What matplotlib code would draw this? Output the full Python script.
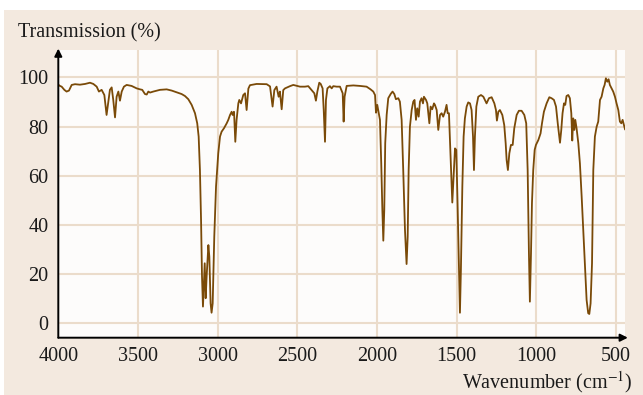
import matplotlib
matplotlib.use('Agg')
import matplotlib.pyplot as plt
from matplotlib.patches import Rectangle

# IR spectrum, values
wavenumber = [
    4000, 3990, 3979, 3962, 3948, 3933, 3916, 3895, 3864, 3832, 3801, 3780, 3759, 3745, 3728,
    3711, 3697, 3686, 3676, 3665, 3655, 3644, 3634, 3623, 3613, 3602, 3588, 3571, 3540, 3508,
    3487, 3473, 3456, 3445, 3435, 3424, 3404, 3362, 3320, 3288, 3257, 3226, 3205, 3184, 3163,
    3142, 3128, 3119, 3111, 3104, 3098, 3092, 3086, 3081, 3075, 3069, 3058, 3052, 3044, 3038,
    3031, 3021, 3010, 2996, 2985, 2975, 2960, 2943, 2933, 2922, 2912, 2906, 2897, 2889, 2881,
    2870, 2864, 2853, 2839, 2828, 2818, 2807, 2797, 2755, 2692, 2671, 2655, 2644, 2630, 2617,
    2609, 2598, 2588, 2577, 2546, 2525, 2483, 2452, 2431, 2410, 2393, 2383, 2374, 2362, 2353,
    2341, 2334, 2326, 2320, 2311, 2295, 2284, 2274, 2253, 2232, 2215, 2209, 2203, 2190, 2148,
    2107, 2065, 2040, 2023, 2012, 2006, 1998, 1990, 1981, 1973, 1966, 1960, 1954, 1948, 1939,
    1929, 1914, 1902, 1891, 1881, 1866, 1856, 1845, 1835, 1824, 1814, 1807, 1801, 1793, 1782,
    1772, 1764, 1755, 1747, 1738, 1730, 1720, 1711, 1705, 1692, 1684, 1671, 1663, 1653, 1642,
    1636, 1625, 1615, 1604, 1594, 1584, 1573, 1563, 1556, 1548, 1540, 1527, 1519, 1510, 1502,
    1494, 1485, 1479, 1473, 1464, 1456, 1448, 1437, 1427, 1416, 1406, 1397, 1391, 1385, 1376,
    1364, 1347, 1332, 1312, 1297, 1280, 1263, 1253, 1247, 1238, 1228, 1213, 1201, 1192, 1186,
    1178, 1169, 1159, 1148, 1138, 1123, 1109, 1092, 1075, 1063, 1054, 1046, 1040, 1033, 1027,
    1019, 1010, 1002, 987, 973, 964, 952, 935, 918, 904, 889, 876, 864, 851, 843,
    835, 826, 818, 810, 799, 789, 780, 774, 768, 761, 755, 747, 736, 726, 715,
    705, 694, 684, 674, 667, 659, 650, 642, 632, 621, 611, 600, 590, 579, 571,
    563, 554, 546, 538, 527, 517, 506, 496, 485, 475, 466, 458, 450, 443,
]
transmission = [
    97.0, 96.5, 96.2, 94.9, 94.2, 94.6, 96.9, 97.2, 97.0, 97.3, 97.8, 97.3, 96.2, 94.2, 94.9,
    92.8, 84.7, 90.1, 94.9, 95.9, 90.8, 83.7, 92.1, 94.2, 90.5, 94.2, 96.2, 96.9, 96.5, 95.5,
    95.1, 94.9, 93.2, 93.0, 94.2, 93.8, 94.2, 94.9, 95.1, 94.6, 93.9, 93.2, 92.4, 91.1, 88.8,
    85.4, 81.3, 75.9, 62.3, 42.0, 19.0, 6.8, 16.3, 24.4, 10.2, 19.0, 31.8, 27.1, 8.1, 4.3,
    8.1, 35.2, 55.6, 69.1, 75.9, 77.9, 79.3, 81.3, 82.7, 84.7, 86.0, 84.7, 86.0, 73.8, 82.7,
    89.4, 90.8, 89.4, 92.8, 93.5, 86.7, 95.4, 96.8, 97.3, 97.2, 96.3, 88.1, 94.8, 96.2, 92.1,
    94.2, 87.0, 94.8, 95.5, 96.4, 96.9, 96.2, 96.2, 96.4, 94.8, 93.5, 90.5, 94.2, 97.8, 97.3,
    95.5, 86.7, 73.8, 90.8, 95.5, 96.4, 95.5, 96.4, 96.2, 96.2, 93.5, 82.0, 92.1, 96.5, 96.7,
    96.5, 96.2, 95.1, 94.2, 92.8, 85.6, 88.8, 86.0, 82.7, 65.0, 46.1, 33.6, 46.1, 73.2, 84.7,
    91.5, 93.2, 94.2, 93.2, 91.1, 91.5, 90.1, 82.7, 62.3, 37.9, 24.1, 35.2, 62.3, 79.9, 86.7,
    90.1, 90.8, 82.7, 87.4, 84.0, 90.1, 91.5, 89.4, 92.1, 90.8, 89.4, 81.3, 88.1, 87.0, 89.4,
    88.8, 86.7, 78.6, 84.7, 85.4, 84.0, 86.0, 88.8, 85.4, 85.4, 71.8, 49.1, 59.6, 71.1, 70.5,
    48.8, 21.7, 4.3, 21.7, 55.6, 75.9, 83.3, 88.1, 89.8, 89.4, 86.7, 75.9, 62.3, 75.9, 88.1,
    92.1, 92.8, 92.1, 89.4, 91.5, 91.9, 89.4, 86.7, 82.4, 86.0, 86.7, 84.7, 80.6, 73.2, 66.4,
    62.3, 69.1, 72.5, 72.5, 79.3, 84.7, 86.4, 86.4, 84.7, 81.3, 62.3, 28.5, 8.8, 28.5, 48.8,
    62.3, 70.5, 72.5, 74.5, 77.2, 81.3, 86.0, 89.4, 91.9, 91.5, 90.8, 88.1, 80.6, 73.4, 78.6,
    85.4, 89.4, 88.8, 92.4, 92.8, 91.5, 85.4, 74.3, 83.3, 78.6, 82.7, 79.3, 73.2, 65.0, 51.5,
    37.9, 23.0, 9.5, 4.1, 3.8, 8.1, 24.4, 62.3, 75.9, 79.9, 82.0, 90.8, 92.1, 95.5, 96.9,
    99.6, 98.2, 99.2, 96.9, 95.5, 94.2, 92.1, 89.4, 86.7, 82.0, 81.3, 82.7, 80.6, 78.9,
]

x_ticks = [4000, 3500, 3000, 2500, 2000, 1500, 1000, 500]
y_ticks = [0, 20, 40, 60, 80, 100]

plt.rcParams['font.family'] = ['Liberation Serif', 'DejaVu Serif']
plt.rcParams['mathtext.fontset'] = 'stix'

W, H = 643, 395
fig = plt.figure(figsize=(W / 100, H / 100), dpi=100, facecolor='white')
fig.patches.append(Rectangle((4 / W, 0), 1, 1 - 10 / H, transform=fig.transFigure,
                             facecolor='#f3e9df', edgecolor='none', zorder=-10))

left, right, bottom, top = 58.3, 625, 337.7, 50
ax = fig.add_axes([left / W, 1 - bottom / H, (right - left) / W, (bottom - top) / H])
ax.set_facecolor('#fdfcfb')

ax.plot(wavenumber, transmission, color='#7a4a08', lw=1.3, zorder=3)

ax.set_xlim(4000, 443)
ax.set_ylim(-5.85, 111.1)
ax.set_xticks(x_ticks)
ax.set_yticks(y_ticks)
ax.grid(True, color='#ebdccb', lw=1.5, zorder=0)
ax.set_axisbelow(True)
for s in ax.spines.values():
    s.set_visible(False)
ax.tick_params(length=0, labelsize=14.5, colors='#1a1a1a', pad=7)
ax.tick_params(axis='y', pad=7)

# axis arrows
arr = dict(arrowstyle='-|>', color='black', lw=1.4, mutation_scale=11, shrinkA=0, shrinkB=0)
ax.annotate('', xy=(0, 1.005), xytext=(0, 0), xycoords='axes fraction', arrowprops=arr, annotation_clip=False)
ax.annotate('', xy=(1.005, 0), xytext=(0, 0), xycoords='axes fraction', arrowprops=arr, annotation_clip=False)

fig.text(18 / W, 1 - 33 / H, 'Transmission (%)', ha='left', va='center', fontsize=14.5, color='#1a1a1a')
fig.text(632 / W, 1 - 382 / H, r'Wavenumber (cm$^{-1}$)', ha='right', va='center', fontsize=14.5, color='#1a1a1a')

fig.savefig('out.png', dpi=100, facecolor=fig.get_facecolor())
